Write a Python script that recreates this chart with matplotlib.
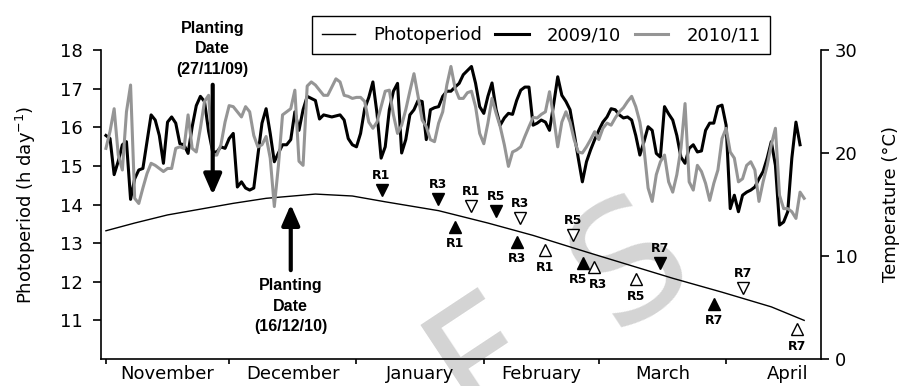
import numpy as np
import matplotlib
matplotlib.use("Agg")
import matplotlib.pyplot as plt
from matplotlib.lines import Line2D

# ---------------- data ----------------
# x axis: day number counted from 1 November (day 0)
month_starts = [0, 30, 61, 92, 120, 151]
month_names = ["November", "December", "January", "February", "March", "April"]
month_label_pos = [15, 45.5, 76.5, 106, 135.5, 166]

# daily mean temperature (degC), season 2009/10 starting on day 0
temp_2009 = [21.7, 21.4, 17.9, 19.2, 20.8, 21.1, 15.5, 17.5, 18.35, 18.5,
             21.1, 23.7, 23.2, 21.7, 19.0, 23.0, 23.5, 22.9, 20.9, 20.8,
             19.96, 22.55, 24.6, 25.5, 25.0, 22.1, 20.1, 20.1, 20.6, 20.45,
             21.4, 21.9, 16.7, 17.2, 16.6, 16.4, 16.6, 19.8, 22.9, 24.3,
             21.9, 19.15, 20.0, 20.8, 20.8, 21.3, 24.0, 22.2, 24.2, 25.5,
             25.3, 25.1, 23.3, 23.7, 23.6, 23.5, 23.6, 23.7, 23.2, 21.4,
             20.8, 20.6, 21.9, 24.3, 25.4, 26.9, 23.85, 19.5, 20.6, 24.2,
             26.0, 26.76, 20.0, 21.3, 23.7, 24.2, 25.1, 25.0, 21.3, 24.2,
             24.4, 24.5, 25.5, 26.0, 26.0, 26.4, 26.76, 27.6, 28.0, 28.4,
             26.76, 24.5, 23.85, 25.5, 26.8, 24.2, 22.7, 23.4, 23.85, 23.75,
             25.1, 26.1, 26.4, 26.4, 22.7, 22.9, 23.2, 23.0, 22.2, 24.7,
             27.4, 25.6, 25.0, 24.2, 21.9, 19.5, 17.2, 19.15, 20.3, 21.3,
             22.2, 23.0, 23.5, 24.3, 24.2, 23.7, 23.4, 23.5, 23.2, 21.7,
             19.8, 21.1, 22.55, 22.2, 19.96, 19.6, 24.5, 23.8, 23.2, 21.7,
             19.6, 19.0, 20.45, 20.8, 20.1, 20.2, 22.2, 22.9, 22.9, 24.5,
             24.65, 22.7, 14.6, 15.9, 14.3, 15.9, 16.2, 16.4, 16.7, 17.5,
             18.2, 19.5, 21.1, 18.8, 13.0, 13.3, 14.3, 19.5, 23.0, 20.8]

# daily mean temperature (degC), season 2010/11 starting on day 0
temp_2010 = [20.45, 22.1, 24.3, 19.8, 18.35, 24.0, 26.6, 15.6, 15.1, 16.6,
             18.0, 19.0, 18.8, 18.5, 18.2, 18.5, 18.5, 20.45, 20.6, 20.45,
             23.7, 20.45, 20.1, 22.4, 25.0, 25.6, 19.8, 19.8, 20.8, 23.0,
             24.6, 24.5, 24.0, 23.5, 24.5, 24.0, 21.7, 20.6, 20.8, 21.6,
             19.5, 14.8, 18.8, 23.7, 24.0, 24.3, 26.1, 19.2, 18.8, 26.5,
             26.9, 26.6, 26.1, 25.6, 25.6, 26.4, 27.2, 26.9, 25.6, 25.5,
             25.3, 25.4, 25.4, 25.0, 23.0, 22.4, 23.0, 24.5, 26.0, 26.1,
             23.7, 21.9, 22.7, 24.2, 26.0, 27.7, 25.5, 23.2, 22.55, 21.3,
             21.1, 22.9, 24.0, 26.6, 28.4, 26.3, 25.3, 25.3, 25.85, 26.0,
             24.5, 21.9, 20.9, 22.9, 25.3, 23.85, 22.55, 20.8, 18.7, 20.1,
             20.3, 20.6, 21.6, 22.55, 23.45, 23.4, 23.75, 24.0, 25.95, 23.5,
             20.6, 23.0, 24.0, 23.0, 21.3, 20.1, 20.0, 20.6, 21.3, 22.07,
             21.3, 22.4, 22.9, 22.7, 23.4, 24.0, 24.4, 25.0, 25.5, 24.5,
             23.0, 20.45, 16.6, 15.3, 17.9, 19.15, 19.8, 17.2, 16.2, 17.9,
             20.45, 24.8, 17.2, 16.4, 18.8, 18.2, 17.05, 15.4, 17.05, 18.35,
             21.4, 22.4, 20.1, 19.5, 17.2, 17.5, 18.8, 19.15, 18.35, 15.3,
             17.2, 18.8, 20.8, 22.4, 15.9, 14.6, 14.6, 14.3, 13.65, 16.2, 15.6]

# photoperiod (h day-1)
photo_days = [0, 7, 15, 23, 31, 39, 51, 60, 68, 81, 93, 104, 117, 138, 150, 162, 170]
photo_vals = [13.32, 13.52, 13.73, 13.88, 14.03, 14.16, 14.27, 14.22, 14.07,
              13.84, 13.52, 13.2, 12.77, 12.09, 11.73, 11.35, 11.0]

# phenological stages (day, photoperiod position, label)
filled_down = [(67.1, 14.38, "R1"), (80.9, 14.15, "R3"), (95.0, 13.82, "R5"), (134.9, 12.49, "R7")]
filled_up = [(85.0, 13.43, "R1"), (100.0, 13.04, "R3"), (116.1, 12.49, "R5"), (148.1, 11.42, "R7")]
open_down = [(88.9, 13.97, "R1"), (100.8, 13.65, "R3"), (113.8, 13.21, "R5"), (155.1, 11.83, "R7")]
open_up = [(106.9, 12.81, "R1"), (118.8, 12.39, "R3"), (129.1, 12.06, "R5"), (168.2, 10.77, "R7")]

planting_2009 = 26   # 27/11/09
planting_2010 = 45   # 16/12/10

# ---------------- figure ----------------
fig = plt.figure(figsize=(9.04, 3.86), dpi=100)
ax = fig.add_axes([101 / 904, 27 / 386, 720 / 904, 309 / 386])
ax2 = ax.twinx()

ax.set_xlim(-1.2, 174.1)
ax.set_ylim(10, 18)
ax2.set_ylim(0, 30)

# watermark letters
ax.text(471 / 904, (386 - 425) / 386, "F", transform=fig.transFigure, fontsize=118,
        color="#d4d4d4", rotation=33.5, rotation_mode="anchor", ha="left",
        va="baseline", zorder=0.1, clip_on=False)
ax.text(613 / 904, (386 - 332) / 386, "S", transform=fig.transFigure, fontsize=118,
        color="#d4d4d4", rotation=33.5, rotation_mode="anchor", ha="left",
        va="baseline", zorder=0.1, clip_on=False)

# photoperiod
ax.plot(photo_days, photo_vals, color="black", lw=1.0, zorder=3)

# stage markers
ms = 9
for d, v, lab in filled_down:
    ax.plot(d, v, marker="v", ms=ms, color="black", zorder=4)
    ax.annotate(lab, (d, v), xytext=(0, 10.5), textcoords="offset points",
                ha="center", va="center", fontsize=9, fontweight="bold")
for d, v, lab in open_down:
    ax.plot(d, v, marker="v", ms=ms, mfc="white", mec="black", mew=1.0, zorder=4)
    ax.annotate(lab, (d, v), xytext=(0, 10.5), textcoords="offset points",
                ha="center", va="center", fontsize=9, fontweight="bold")
for d, v, lab in filled_up:
    ax.plot(d, v, marker="^", ms=ms, color="black", zorder=4)
    dx = -3.5 if lab == "R5" and d < 120 else 0
    ax.annotate(lab, (d, v), xytext=(dx, -12), textcoords="offset points",
                ha="center", va="center", fontsize=9, fontweight="bold")
for d, v, lab in open_up:
    ax.plot(d, v, marker="^", ms=ms, mfc="white", mec="black", mew=1.0, zorder=4)
    dx = 3 if lab == "R3" else 0
    ax.annotate(lab, (d, v), xytext=(dx, -12.5), textcoords="offset points",
                ha="center", va="center", fontsize=9, fontweight="bold")

# temperatures
ax2.plot(np.arange(len(temp_2009)), temp_2009, color="black", lw=2.2, zorder=2)
ax2.plot(np.arange(len(temp_2010)), temp_2010, color="#959595", lw=2.2, zorder=2)

# planting date arrows and texts
arrow_kw = dict(arrowstyle="-|>,head_length=0.62,head_width=0.27", lw=3,
                color="black", mutation_scale=20, shrinkA=0, shrinkB=0)
ax2.annotate("", xy=(planting_2009, 14.25), xycoords=ax.transData,
             xytext=(planting_2009, 17.1), textcoords=ax.transData,
             arrowprops=arrow_kw, zorder=5)
ax2.annotate("", xy=(planting_2010, 14.0), xycoords=ax.transData,
             xytext=(planting_2010, 12.3), textcoords=ax.transData,
             arrowprops=arrow_kw, zorder=5)
plant_font = dict(family=["Liberation Sans", "DejaVu Sans"], fontsize=11.5,
                  fontweight="bold", linespacing=1.45)
ax.text(planting_2009, 18.03, "Planting\nDate\n(27/11/09)", ha="center", va="center",
        clip_on=False, **plant_font)
ax.text(planting_2010, 11.37, "Planting\nDate\n(16/12/10)", ha="center", va="center",
        **plant_font)

# axes styling
for s in ["top", "right"]:
    ax.spines[s].set_visible(False)
for s in ["top", "left", "bottom"]:
    ax2.spines[s].set_visible(False)
for a in (ax, ax2):
    for s in a.spines.values():
        s.set_linewidth(1.2)

ax.set_yticks([11, 12, 13, 14, 15, 16, 17, 18])
ax.tick_params(axis="y", labelsize=13, length=5.8, width=1.2, pad=7)
ax2.set_yticks([0, 10, 20, 30])
ax2.tick_params(axis="y", labelsize=13, length=5.8, width=1.2, pad=4)

ax.set_xticks(month_starts)
ax.set_xticklabels([""] * len(month_starts))
ax.set_xticks(month_label_pos, minor=True)
ax.set_xticklabels(month_names, minor=True)
ax.tick_params(axis="x", which="major", length=3.6, width=1.2)
ax.tick_params(axis="x", which="minor", length=0, labelsize=13, pad=4.5)

ax.set_ylabel("Photoperiod (h day$^{-1}$)", fontsize=13)
ax.yaxis.set_label_coords(-0.087, 0.5)
ax2.set_ylabel("Temperature (°C)", fontsize=13)
ax2.yaxis.set_label_coords(1.085, 0.5)

handles = [Line2D([], [], color="black", lw=1.0),
           Line2D([], [], color="black", lw=2.2),
           Line2D([], [], color="#959595", lw=2.2)]
leg = fig.legend(handles, ["Photoperiod", "2009/10", "2010/11"], loc="center",
                 bbox_to_anchor=(541 / 904, (386 - 35) / 386), ncol=3, fontsize=13,
                 frameon=True, fancybox=False, edgecolor="black", framealpha=1,
                 handlelength=1.85, handletextpad=1.0, columnspacing=0.75,
                 borderpad=0.55)
leg.get_frame().set_linewidth(1.0)

fig.savefig("out.png", dpi=100)
